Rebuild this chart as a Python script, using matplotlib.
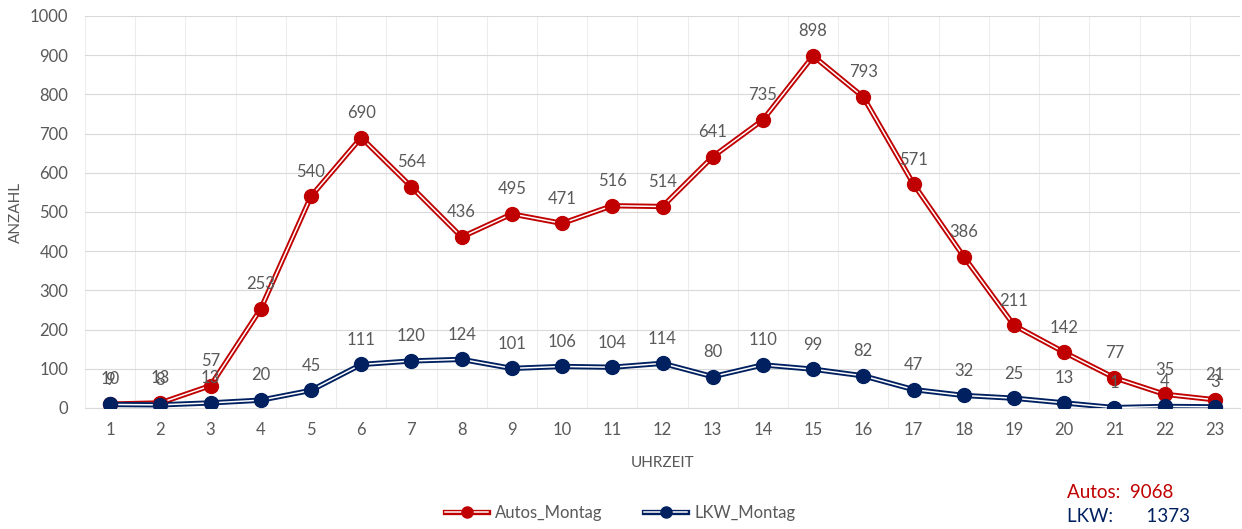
import matplotlib
matplotlib.use("Agg")
import matplotlib.pyplot as plt
from matplotlib.lines import Line2D
from matplotlib.legend_handler import HandlerTuple

hours = list(range(1, 24))
autos = [10, 13, 57, 253, 540, 690, 564, 436, 495, 471, 516, 514, 641, 735, 898, 793, 571, 386, 211, 142, 77, 35, 21]
lkw = [9, 8, 13, 20, 45, 111, 120, 124, 101, 106, 104, 114, 80, 110, 99, 82, 47, 32, 25, 13, 1, 4, 3]
series_names = ["Autos_Montag", "LKW_Montag"]
total_autos = 9068
total_lkw = 1373

RED = "#C00000"
NAVY = "#002060"
GRAY = "#595959"
plt.rcParams['font.family'] = ['Lato', 'DejaVu Sans']

fig = plt.figure(figsize=(12.42, 5.29), dpi=100)
ax = fig.add_axes([85/1242, 1-408/529, 1155/1242, 392/529])

handles = []
for vals, col, name in [(autos, RED, series_names[0]), (lkw, NAVY, series_names[1])]:
    ax.plot(hours, vals, color=col, lw=3.8, solid_joinstyle='round', zorder=3)
    ax.plot(hours, vals, color="white", lw=1.1, solid_joinstyle='round', zorder=3)
    ax.plot(hours, vals, ls='none', marker='o', ms=10, color=col, zorder=4)
    for x, v in zip(hours, vals):
        ax.annotate(str(v), (x, v), xytext=(0, 12), textcoords='offset points',
                    ha='center', va='bottom', fontsize=12, color=GRAY, zorder=5)
    h = (Line2D([], [], color=col, lw=3.8), Line2D([], [], color='white', lw=1.1),
         Line2D([], [], ls='none', marker='o', ms=8, color=col))
    handles.append((h, name))

ax.set_xlim(0.5, 23.5)
ax.set_ylim(0, 1000)
ax.set_yticks(range(0, 1001, 100))
ax.set_xticks(hours)
ax.set_xticks([h + 0.5 for h in range(0, 24)], minor=True)
ax.grid(axis='y', which='major', color='#D9D9D9', lw=0.8)
ax.grid(axis='x', which='minor', color='#EDEDED', lw=0.8)
ax.set_axisbelow(True)
for s in ['top', 'right', 'left']:
    ax.spines[s].set_visible(False)
ax.spines['bottom'].set_color('#D9D9D9')
ax.tick_params(axis='both', which='both', length=0, colors=GRAY, labelsize=12)
ax.tick_params(axis='x', pad=10)
ax.tick_params(axis='y', pad=12)
ax.set_xlabel("UHRZEIT", color=GRAY, fontsize=11, labelpad=13)
ax.set_ylabel("ANZAHL", color=GRAY, fontsize=11, labelpad=5)

leg = fig.legend([h for h, _ in handles], [n for _, n in handles],
                 handler_map={tuple: HandlerTuple(ndivide=1)},
                 loc='center', bbox_to_anchor=(620/1242, 1-513/529), ncol=2,
                 frameon=False, fontsize=12, handlelength=2.6, columnspacing=2.5,
                 handletextpad=0.4)
for t in leg.get_texts():
    t.set_color(GRAY)

fig.text(1067/1242, 1-492/529, f"Autos:  {total_autos}", color=RED, fontsize=13.5, va='center')
fig.text(1067/1242, 1-516/529, f"LKW:       {total_lkw}", color=NAVY, fontsize=13.5, va='center')

fig.savefig("out.png", dpi=100)
